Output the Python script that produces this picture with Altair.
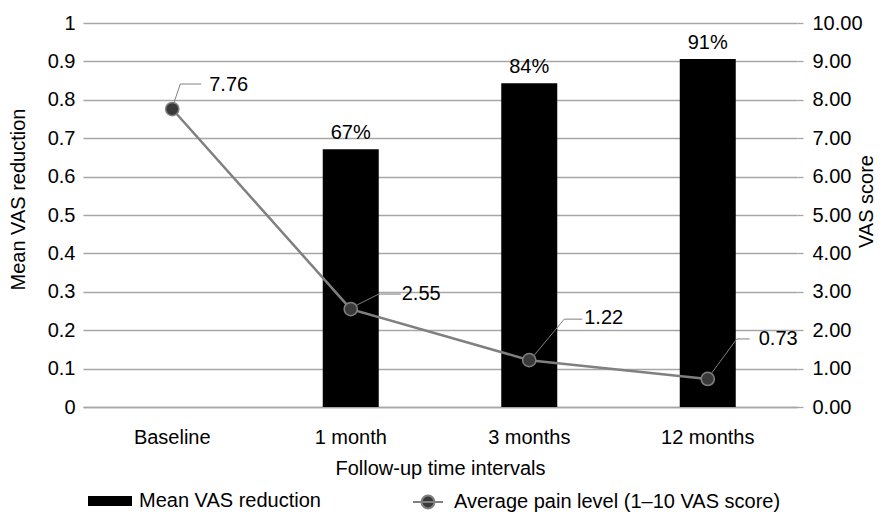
import altair as alt
import pandas as pd

categories = ["Baseline", "1 month", "3 months", "12 months"]
reduction = [None, 0.671, 0.843, 0.906]
pain = [7.76, 2.55, 1.22, 0.73]

bar_name = "Mean VAS reduction"
line_name = "Average pain level (1–10 VAS score)"

df = pd.DataFrame({"cat": categories, "red": reduction, "pain": pain})
df["bar_series"] = bar_name
df["line_series"] = line_name
df["pain_label"] = [f"{v:.2f}" for v in pain]

FONT = "Liberation Sans"
FS = 20
GRID = "#a6a6a6"
LINE = "#808080"

# label leader styling per point (pixel offsets: diagonal start, elbow, end, text)
LEADERS = {
    "Baseline": dict(sx=2, sy=-7, ex=8, ey=-25, hx=29, tx=37, ty=-24),
    "1 month": dict(sx=6, sy=-4, ex=28, ey=-15, hx=50, tx=51, ty=-15),
    "3 months": dict(sx=5, sy=-5, ex=35, ey=-41, hx=53, tx=55, ty=-42),
    "12 months": dict(sx=4, sy=-6, ex=29, ey=-40, hx=42, tx=51, ty=-40),
}

x_enc = alt.X("cat:N", sort=categories,
              scale=alt.Scale(paddingInner=0, paddingOuter=0),
              axis=alt.Axis(title="Follow-up time intervals", labelAngle=0,
                            ticks=False, domain=True, domainColor=GRID, domainWidth=1.5,
                            labelPadding=20, titlePadding=11))

left_axis = alt.Axis(title="Mean VAS reduction", values=[i / 10 for i in range(11)],
                     format="~g", ticks=False, domain=False, grid=True,
                     gridColor=GRID, gridWidth=1.3, labelPadding=8, titlePadding=19,
                     titleAngle=-90, titleY=176)
right_axis = alt.Axis(title="VAS score", values=list(range(11)), format=".2f",
                      orient="right", ticks=True, tickSize=6, tickColor=GRID, tickWidth=1.3,
                      domain=False, grid=False,
                      labelPadding=9, titlePadding=14, titleAngle=-90, titleY=178)

y_left = alt.Y("red:Q", scale=alt.Scale(domain=[0, 1], nice=False), axis=left_axis)
y_right = alt.Y("pain:Q", scale=alt.Scale(domain=[0, 10], nice=False), axis=right_axis)

base = alt.Chart(df)

bars = base.transform_filter("datum.red != null").mark_bar(size=56).encode(
    x=x_enc, y=y_left,
    fill=alt.Fill("bar_series:N", scale=alt.Scale(domain=[bar_name], range=["#000000"]),
                  legend=alt.Legend(title=None, orient="none", legendX=5, legendY=456,
                                    symbolType="M-1,-0.227H1V0.227H-1Z", symbolSize=1936,
                                    symbolStrokeWidth=0, labelOffset=7, padding=0,
                                    labelLimit=0)),
)
bar_text = base.transform_filter("datum.red != null").mark_text(
    baseline="bottom", dy=-6, fontSize=FS, font=FONT, color="#000000").encode(
    x=x_enc, y=y_left, text=alt.Text("red:Q", format=".0%"))

left = alt.layer(bars, bar_text)

line = base.mark_line(strokeWidth=2.5).encode(
    x=x_enc, y=y_right,
    stroke=alt.Stroke("line_series:N", scale=alt.Scale(domain=[line_name], range=[LINE]),
                      legend=alt.Legend(title=None, orient="none", legendX=329, legendY=463,
                                        symbolType="M-1,0H1M0.43,0A0.43,0.43,0,1,1,-0.43,0A0.43,0.43,0,1,1,0.43,0",
                                        symbolSize=900, symbolStrokeWidth=2,
                                        symbolFillColor="#3a3a3a", labelOffset=10, padding=0,
                                        labelLimit=0)),
)
points = base.mark_point(filled=True, size=175, fill="#3a3a3a", stroke=LINE,
                         strokeWidth=1.5, opacity=1).encode(x=x_enc, y=y_right)

label_layers = []
for cat, o in LEADERS.items():
    sub = base.transform_filter(alt.datum.cat == cat)
    label_layers.append(sub.mark_rule(color=LINE, strokeWidth=1, xOffset=o["sx"], yOffset=o["sy"],
                                      x2Offset=o["ex"], y2Offset=o["ey"]).encode(
        x=x_enc, x2="cat:N", y=y_right, y2="pain:Q"))
    label_layers.append(sub.mark_rule(color=LINE, strokeWidth=1, xOffset=o["ex"], yOffset=o["ey"],
                                      x2Offset=o["hx"], y2Offset=o["ey"]).encode(
        x=x_enc, x2="cat:N", y=y_right, y2="pain:Q"))
    label_layers.append(sub.mark_text(align="left", baseline="middle", dx=o["tx"], dy=o["ty"],
                                      fontSize=FS, font=FONT, color="#000000").encode(
        x=x_enc, y=y_right, text="pain_label:N"))

right = alt.layer(line, points, *label_layers)

chart = alt.layer(left, right).resolve_scale(y="independent", fill="independent",
                                               stroke="independent").properties(
    width=714, height=384,
    autosize=alt.AutoSizeParams(type="none"),
    padding={"left": 75, "top": 15, "right": 79, "bottom": 110},
).configure_view(stroke=None).configure_axis(
    labelFont=FONT, titleFont=FONT, labelFontSize=FS, titleFontSize=FS,
    labelColor="#000000", titleColor="#000000", titleFontWeight="normal",
).configure_legend(labelFont=FONT, labelFontSize=FS, labelColor="#000000")

chart.save("out.html", embed_options={"renderer": "svg", "actions": False})
